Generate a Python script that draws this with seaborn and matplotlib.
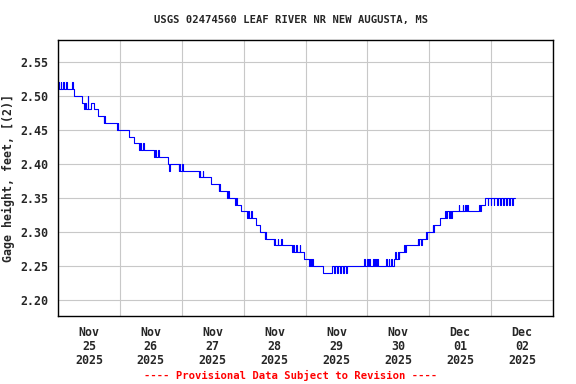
import pandas as pd
import matplotlib
matplotlib.use("Agg")
import matplotlib.pyplot as plt
import matplotlib.dates as mdates
import seaborn as sns

# Gage height change points
# hours after 2025-11-25 00:00, value in feet (step changes)
hours = [
    0.0, 0.3, 1.0, 1.3, 2.0, 2.3, 3.2, 3.5, 5.4, 5.7, 6.3,
    9.4, 10.2, 10.5, 11.0, 11.5, 11.8, 12.8, 14.1, 15.6,
    17.7, 18.0, 18.3, 22.8, 23.1, 23.4, 27.5, 29.5, 31.4, 31.7,
    32.0, 33.0, 33.3, 37.3, 37.6, 37.9, 38.9, 39.2, 42.7, 43.0,
    43.3, 46.8, 47.1, 47.4, 48.2, 48.5, 54.6, 54.9, 55.2, 56.1,
    56.4, 59.5, 62.3, 62.6, 62.9, 65.7, 66.0, 66.3, 68.8, 69.1,
    69.4, 70.8, 73.4, 73.7, 74.0, 75.0, 75.3, 76.8, 78.2, 80.1,
    80.4, 80.7, 83.6, 83.9, 84.2, 85.2, 85.5, 86.5, 86.8, 90.8,
    91.1, 91.4, 92.5, 92.8, 93.7, 94.0, 95.6, 97.5, 97.8, 98.1,
    98.6, 98.9, 102.7, 106.3, 107.0, 107.3, 108.2, 108.5, 109.5, 109.8,
    110.5, 110.8, 111.8, 112.1, 118.8, 119.1, 119.8, 120.1, 120.6, 120.9,
    122.1, 122.4, 123.0, 123.3, 123.9, 124.2, 127.2, 127.5, 128.2, 128.5,
    129.2, 129.5, 130.5, 130.9, 131.2, 131.9, 132.2, 132.4, 134.3, 134.6,
    134.9, 139.5, 139.8, 140.1, 140.9, 141.2, 142.7, 143.0, 143.3, 145.3,
    145.6, 145.9, 148.2, 150.2, 150.5, 150.8, 151.6, 151.9, 152.6, 152.9,
    155.4, 155.7, 156.9, 157.2, 157.9, 158.2, 158.6, 158.9, 163.4, 163.7,
    164.1, 165.7, 166.6, 166.9, 167.8, 168.1, 169.0, 169.3, 170.2, 170.5,
    171.4, 171.7, 172.6, 172.9, 173.8, 174.1, 175.0, 175.3, 176.2, 176.5,
    177.2,
]
gage_ft = [
    2.52, 2.51, 2.52, 2.51, 2.52, 2.51, 2.52, 2.51, 2.52, 2.51, 2.50,
    2.49, 2.48, 2.49, 2.48, 2.50, 2.48, 2.49, 2.48, 2.47,
    2.46, 2.47, 2.46, 2.45, 2.46, 2.45, 2.44, 2.43, 2.42, 2.43,
    2.42, 2.43, 2.42, 2.41, 2.42, 2.41, 2.42, 2.41, 2.40, 2.39,
    2.40, 2.39, 2.40, 2.39, 2.40, 2.39, 2.38, 2.39, 2.38, 2.39,
    2.38, 2.37, 2.36, 2.37, 2.36, 2.35, 2.36, 2.35, 2.34, 2.35,
    2.34, 2.33, 2.32, 2.33, 2.32, 2.33, 2.32, 2.31, 2.30, 2.29,
    2.30, 2.29, 2.28, 2.29, 2.28, 2.29, 2.28, 2.29, 2.28, 2.27,
    2.28, 2.27, 2.28, 2.27, 2.28, 2.27, 2.26, 2.25, 2.26, 2.25,
    2.26, 2.25, 2.24, 2.25, 2.24, 2.25, 2.24, 2.25, 2.24, 2.25,
    2.24, 2.25, 2.24, 2.25, 2.26, 2.25, 2.26, 2.25, 2.26, 2.25,
    2.26, 2.25, 2.26, 2.25, 2.26, 2.25, 2.26, 2.25, 2.26, 2.25,
    2.26, 2.25, 2.26, 2.27, 2.26, 2.27, 2.26, 2.27, 2.28, 2.27,
    2.28, 2.29, 2.28, 2.29, 2.28, 2.29, 2.30, 2.29, 2.30, 2.31,
    2.30, 2.31, 2.32, 2.33, 2.32, 2.33, 2.32, 2.33, 2.32, 2.33,
    2.34, 2.33, 2.34, 2.33, 2.34, 2.33, 2.34, 2.33, 2.34, 2.33,
    2.34, 2.35, 2.34, 2.35, 2.34, 2.35, 2.34, 2.35, 2.34, 2.35,
    2.34, 2.35, 2.34, 2.35, 2.34, 2.35, 2.34, 2.35, 2.34, 2.35,
    2.35,
]

start = pd.Timestamp("2025-11-25")
df = pd.DataFrame({
    "time": start + pd.to_timedelta(hours, unit="h"),
    "gage": gage_ft,
})

sns.set_style("white")
plt.rcParams["font.family"] = ["DejaVu Sans Mono"]
plt.rcParams["font.weight"] = "bold"

fig = plt.figure(figsize=(5.76, 3.84), dpi=100)
ax = fig.add_axes([0.1007, 0.177, 0.8594, 0.7188])

sns.lineplot(data=df, x="time", y="gage", ax=ax, color="#0000ff",
             linewidth=0.8, drawstyle="steps-post", estimator=None)

ax.set_xlim(start, start + pd.Timedelta(days=8))
ax.set_ylim(2.176, 2.582)
ax.set_yticks([2.20, 2.25, 2.30, 2.35, 2.40, 2.45, 2.50, 2.55])
ax.yaxis.set_major_formatter(plt.FormatStrFormatter("%.2f"))

# labels at noon, grid at midnight
ax.xaxis.set_major_locator(mdates.HourLocator(byhour=[12]))
ax.xaxis.set_major_formatter(mdates.DateFormatter("%b\n%d\n%Y"))
ax.xaxis.set_minor_locator(mdates.DayLocator())
ax.grid(which="minor", axis="x", color="#c8c8c8", linewidth=0.8)
ax.grid(which="major", axis="y", color="#c8c8c8", linewidth=0.8)
ax.grid(which="major", axis="x", visible=False)
ax.tick_params(axis="both", which="both", length=0, labelsize=8.4, pad=7)
for lab in ax.get_xticklabels():
    lab.set_linespacing(1.1)
    lab.set_fontweight("bold")
for lab in ax.get_yticklabels():
    lab.set_fontweight("bold")

for s in ax.spines.values():
    s.set_color("black")
    s.set_linewidth(1.0)

ax.set_xlabel("")
ax.set_ylabel("Gage height, feet, [(2)]", fontsize=8.4, fontweight="bold", labelpad=4)

fig.text(0.505, 0.948, "USGS 02474560 LEAF RIVER NR NEW AUGUSTA, MS",
         ha="center", va="center", fontsize=7.6, fontweight="bold")
fig.text(0.505, 0.023, "---- Provisional Data Subject to Revision ----",
         ha="center", va="center", fontsize=7.6, fontweight="bold", color="red")

fig.savefig("out.png", dpi=100)
